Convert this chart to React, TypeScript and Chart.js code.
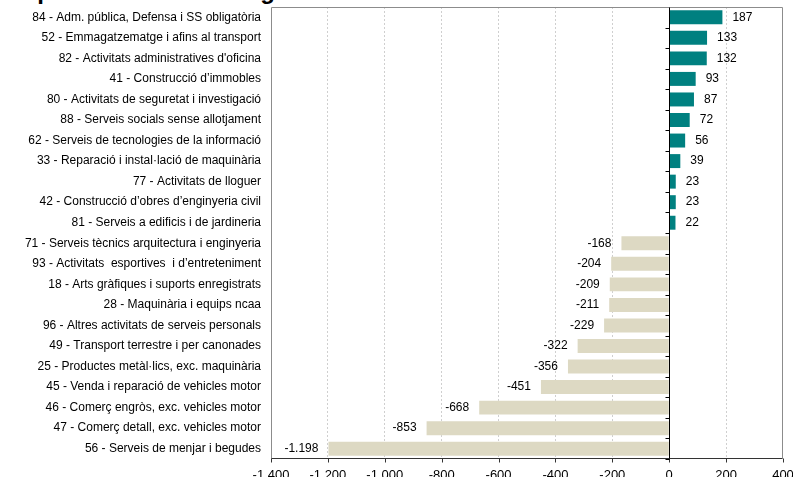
import React, { useEffect, useRef } from "react";
import { Chart, registerables } from "chart.js";

Chart.register(...registerables);

const titleText = "Empreses amb més augment i disminució";

const categories = [
  "84 - Adm. pública, Defensa i SS obligatòria",
  "52 - Emmagatzematge i afins al transport",
  "82 - Activitats administratives d'oficina",
  "41 - Construcció d\u2019immobles",
  "80 - Activitats de seguretat i investigació",
  "88 - Serveis socials sense allotjament",
  "62 - Serveis de tecnologies de la informació",
  "33 - Reparació i instal·lació de maquinària",
  "77 - Activitats de lloguer",
  "42 - Construcció d\u2019obres d\u2019enginyeria civil",
  "81 - Serveis a edificis i de jardineria",
  "71 - Serveis tècnics arquitectura i enginyeria",
  "93 - Activitats  esportives  i d\u2019entreteniment",
  "18 - Arts gràfiques i suports enregistrats",
  "28 - Maquinària i equips ncaa",
  "96 - Altres activitats de serveis personals",
  "49 - Transport terrestre i per canonades",
  "25 - Productes metàl·lics, exc. maquinària",
  "45 - Venda i reparació de vehicles motor",
  "46 - Comerç engròs, exc. vehicles motor",
  "47 - Comerç detall, exc. vehicles motor",
  "56 - Serveis de menjar i begudes",
];

const values = [
  187, 133, 132, 93, 87, 72, 56, 39, 23, 23, 22,
  -168, -204, -209, -211, -229, -322, -356, -451, -668, -853, -1198,
];

const xMin = -1400;
const xMax = 400;
const xStep = 200;

const POS_COLOR = "#008080";
const NEG_COLOR = "#DDD9C3";
const FONT = "'Liberation Sans', Arial, sans-serif";

function fmt(v: number): string {
  const s = Math.abs(Math.round(v))
    .toString()
    .replace(/\B(?=(\d{3})+(?!\d))/g, ".");
  return (v < 0 ? "-" : "") + s;
}

const overlayPlugin = {
  id: "overlay",
  afterDatasetsDraw(chart: any) {
    const { ctx, chartArea, scales } = chart;
    const { left, right, top, bottom } = chartArea;
    const x = scales.x;
    ctx.save();
    const L = Math.round(left) + 0.5;
    const R = Math.round(right) - 0.5;
    const T = Math.round(top) + 0.5;
    const B = Math.round(bottom) - 0.5;
    ctx.lineWidth = 1;
    ctx.setLineDash([]);
    ctx.strokeStyle = "#8c8c8c";
    ctx.beginPath();
    ctx.moveTo(L, B);
    ctx.lineTo(L, T);
    ctx.lineTo(R, T);
    ctx.lineTo(R, B);
    ctx.stroke();
    ctx.strokeStyle = "#333333";
    ctx.beginPath();
    ctx.moveTo(L, B);
    ctx.lineTo(R, B);
    ctx.stroke();
    for (let v = xMin; v <= xMax; v += xStep) {
      const px = Math.round(x.getPixelForValue(v)) + 0.5;
      ctx.beginPath();
      ctx.moveTo(px, B);
      ctx.lineTo(px, B + 4);
      ctx.stroke();
    }
    const z = Math.round(x.getPixelForValue(0)) + 0.5;
    ctx.strokeStyle = "#000000";
    ctx.beginPath();
    ctx.moveTo(z, T);
    ctx.lineTo(z, B);
    ctx.stroke();
    const n = categories.length;
    const band = (bottom - top) / n;
    for (let i = 1; i <= n; i++) {
      const py = Math.round(top + band * i) + 0.5;
      ctx.beginPath();
      ctx.moveTo(z - 4, py);
      ctx.lineTo(z, py);
      ctx.stroke();
    }
    const meta = chart.getDatasetMeta(0);
    ctx.fillStyle = "#000000";
    ctx.font = `12px ${FONT}`;
    ctx.textBaseline = "middle";
    meta.data.forEach((bar: any, i: number) => {
      const v = values[i];
      if (v >= 0) {
        ctx.textAlign = "left";
        ctx.fillText(fmt(v), bar.x + 10, bar.y);
      } else {
        ctx.textAlign = "right";
        ctx.fillText(fmt(v), bar.x - 10, bar.y);
      }
    });
    ctx.restore();
  },
};

export default function App() {
  const canvasRef = useRef<HTMLCanvasElement | null>(null);

  useEffect(() => {
    const canvas = canvasRef.current;
    if (!canvas) return;
    const chart = new Chart(canvas, {
      type: "bar",
      data: {
        labels: categories,
        datasets: [
          {
            data: values,
            backgroundColor: values.map((v) => (v >= 0 ? POS_COLOR : NEG_COLOR)),
            borderWidth: 0,
            barPercentage: 0.68,
            categoryPercentage: 1,
          },
        ],
      },
      options: {
        indexAxis: "y",
        responsive: false,
        animation: false,
        devicePixelRatio: 1,
        layout: { padding: { top: 7, right: 10, left: 0, bottom: 0 } },
        plugins: {
          legend: { display: false },
          tooltip: { enabled: false },
          title: { display: false },
        },
        scales: {
          x: {
            type: "linear",
            min: xMin,
            max: xMax,
            ticks: {
              stepSize: xStep,
              color: "#000000",
              font: { family: FONT, size: 13 },
              padding: 9,
              maxRotation: 0,
              callback: (v: any) => fmt(Number(v)),
            },
            grid: {
              drawTicks: false,
              color: (c: any) => {
                const v = c.tick ? c.tick.value : 0;
                if (v === xMin || v === xMax || v === 0) return "rgba(0,0,0,0)";
                return "#cfcfcf";
              },
              lineWidth: 1,
            },
            border: { display: false, dash: [2, 2] },
            afterFit: (scale: any) => {
              scale.height = 18;
              scale.paddingLeft = 0;
              scale.paddingRight = 0;
              scale.paddingTop = 0;
              scale.paddingBottom = 0;
            },
          },
          y: {
            type: "category",
            ticks: {
              color: "#000000",
              font: { family: FONT, size: 12 },
              padding: 10,
              autoSkip: false,
            },
            grid: { display: false, drawTicks: false },
            border: { display: false },
            afterFit: (scale: any) => {
              scale.width = 271;
              scale.paddingLeft = 0;
              scale.paddingRight = 0;
              scale.paddingTop = 0;
              scale.paddingBottom = 0;
            },
          },
        },
      },
      plugins: [overlayPlugin],
    } as any);
    return () => chart.destroy();
  }, []);

  return (
    <div
      style={{
        position: "fixed",
        left: 0,
        top: 0,
        width: 793,
        height: 477,
        background: "#ffffff",
        overflow: "hidden",
      }}
    >
      <div
        style={{
          position: "absolute",
          left: 0,
          top: -21,
          fontFamily: FONT,
          fontWeight: "bold",
          fontSize: 24,
          lineHeight: "24px",
          whiteSpace: "nowrap",
          color: "#000",
        }}
      >
        {titleText}
      </div>
      <canvas ref={canvasRef} width={793} height={477} style={{ position: "absolute", left: 0, top: 0 }} />
    </div>
  );
}
